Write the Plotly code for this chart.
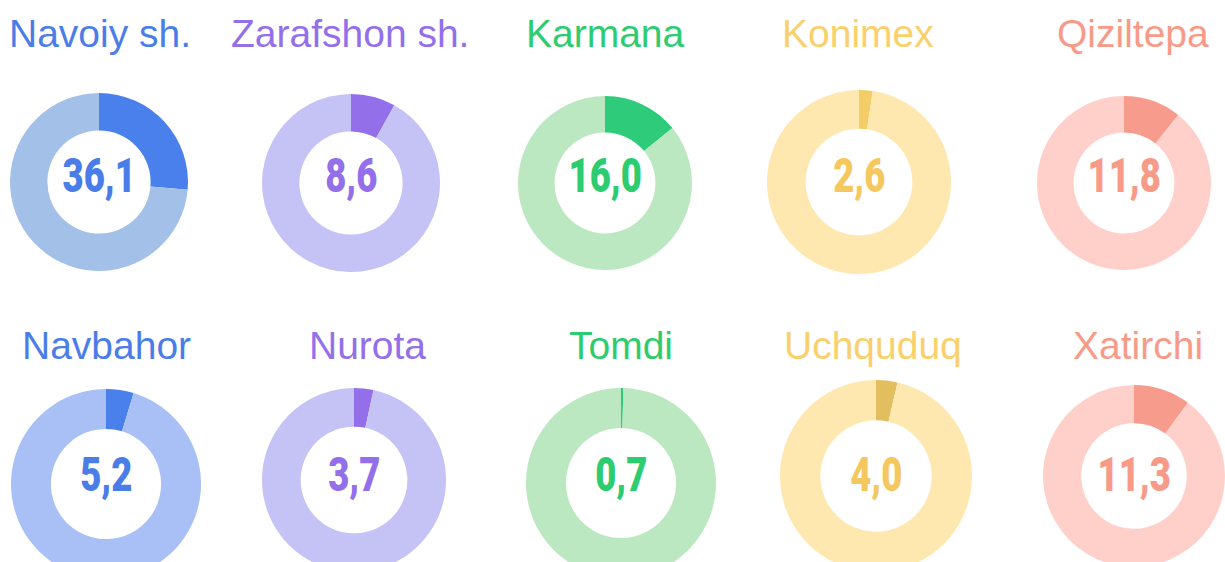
import plotly.graph_objects as go

# ---- data ----
districts = ["Navoiy sh.", "Zarafshon sh.", "Karmana", "Konimex", "Qiziltepa",
             "Navbahor", "Nurota", "Tomdi", "Uchquduq", "Xatirchi"]
center_values = [36.1, 8.6, 16.0, 2.6, 11.8, 5.2, 3.7, 0.7, 4.0, 11.3]
# highlighted arc share (%)
arc_share = [26.4, 8.1, 14.1, 2.4, 10.7, 4.7, 3.4, 0.4, 3.6, 10.1]

# ---- styles ----
dark_colors = ["#4a80ec", "#9370ea", "#2ecc7a", "#f5cd66", "#f79c8c",
               "#4a80ec", "#9370ea", "#2ecc7a", "#e3be5f", "#f79c8c"]
light_colors = ["#a3c1e8", "#c5c3f5", "#bbe8c0", "#fee8b0", "#ffd0c9",
                "#a8c0f5", "#c5c3f5", "#bbe8c0", "#fee8b0", "#ffd0c9"]
text_colors = ["#4a7de8", "#9370ea", "#2ecc71", "#f5c85f", "#f79b88",
               "#4a7de8", "#9370ea", "#2ecc71", "#f5c85f", "#f79b88"]
title_colors = ["#4a7de8", "#9370ea", "#2ecc71", "#f9d06c", "#f79b88",
                "#4a7de8", "#9370ea", "#2ecc71", "#f9d06c", "#f79b88"]

# layout geometry (pixels)
W, H = 1225, 600
centers = [(99, 182, 89), (351, 183, 89), (605, 183, 87), (859, 182, 92), (1124, 183, 87),
           (106, 484, 95), (354, 480, 92), (621, 483, 95), (876, 476, 96), (1134, 476, 91)]
number_pos = [(99, 175), (351, 175), (605, 175), (859, 175), (1124, 175),
              (106, 474), (354, 474), (621, 474), (876, 474), (1134, 474)]
title_pos = [(100, 33), (350, 33), (605, 33), (858, 33), (1133, 33),
             (106, 345), (367, 345), (621, 345), (873, 345), (1138, 345)]

fig = go.Figure()
annotations = []
for i, name in enumerate(districts):
    cx, cy, r = centers[i]
    fig.add_trace(go.Pie(
        values=[arc_share[i], 100 - arc_share[i]],
        labels=[name, "other"],
        hole=0.58,
        sort=False,
        direction="clockwise",
        rotation=0,
        textinfo="none",
        showlegend=False,
        marker=dict(colors=[dark_colors[i], light_colors[i]], line=dict(width=0)),
        domain=dict(x=[(cx - r) / W, (cx + r) / W],
                    y=[1 - (cy + r) / H, 1 - (cy - r) / H]),
    ))
    nx, ny = number_pos[i]
    annotations.append(dict(
        x=nx / W, y=1 - ny / H, xref="paper", yref="paper",
        text=f"{center_values[i]:.1f}".replace(".", ","),
        showarrow=False, xanchor="center", yanchor="middle",
        font=dict(family="Roboto, sans-serif", size=48, color=text_colors[i], weight=900),
    ))
    tx, ty = title_pos[i]
    annotations.append(dict(
        x=tx / W, y=1 - ty / H, xref="paper", yref="paper",
        text=name, showarrow=False, xanchor="center", yanchor="middle",
        font=dict(family="Liberation Sans, Arial, sans-serif", size=39, color=title_colors[i]),
    ))

fig.update_layout(
    width=W, height=H,
    margin=dict(l=0, r=0, t=0, b=0),
    paper_bgcolor="white", plot_bgcolor="white",
    annotations=annotations,
)

post = """
document.body.style.margin='0';
document.body.style.overflow='hidden';
var gd = document.getElementById('{plot_id}');
function condense(){
  document.querySelectorAll('.annotation-text').forEach(function(t){
    if(/^[0-9]+,[0-9]$/.test(t.textContent)){
      t.style.transformBox='fill-box';
      t.style.transformOrigin='center';
      t.style.transform='scaleX(0.76)';
    }
  });
}
condense();
if (gd && gd.on) { gd.on('plotly_afterplot', condense); }
setTimeout(condense, 50);
"""

fig.write_html("out.html", config={"displayModeBar": False}, post_script=post)
